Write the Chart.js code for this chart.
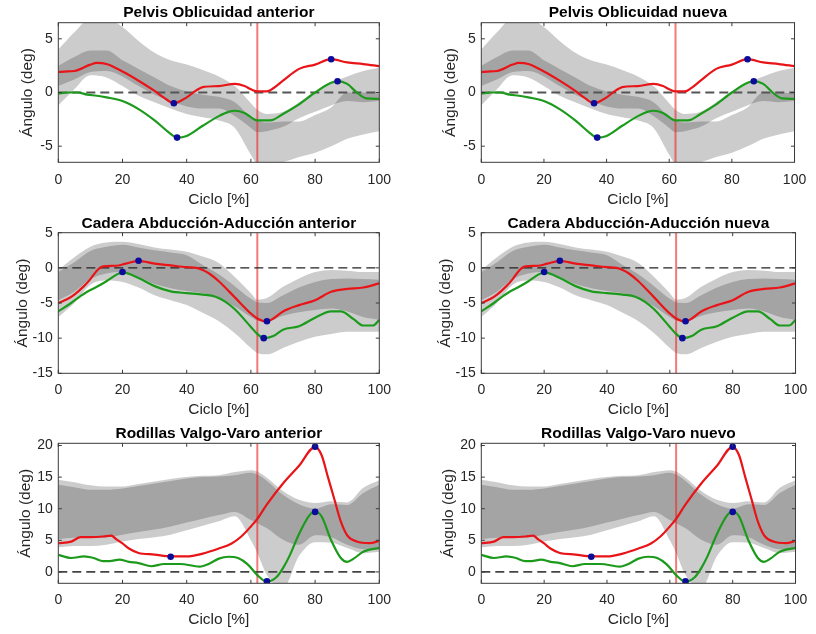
<!DOCTYPE html>
<html><head><meta charset="utf-8">
<script src="https://cdn.jsdelivr.net/npm/chart.js@4.4.0/dist/chart.umd.min.js"></script>
<style>
html,body{margin:0;padding:0;background:#fff;}
body{width:816px;height:634px;position:relative;overflow:hidden;}
canvas{position:absolute;}
</style></head><body>
<canvas id="c00"></canvas><canvas id="c01"></canvas>
<canvas id="c10"></canvas><canvas id="c11"></canvas>
<canvas id="c20"></canvas><canvas id="c21"></canvas>
<script>
// ---------- data ----------
const xTicks = [0, 20, 40, 60, 80, 100];
const pelvisYTicks = [-5, 0, 5];
const caderaYTicks = [-15, -10, -5, 0, 5];
const rodillaYTicks = [0, 5, 10, 15, 20];
const eventX = 62;

const bandX = [0, 5, 10, 15, 20, 25, 30, 35, 40, 45, 50, 55, 60, 62, 65, 70, 75, 80, 85, 90, 95, 100];

// Pelvis oblicuidad
const pelvisBandAHi = [4.0, 5.6, 6.9, 6.9, 6.1, 4.8, 3.7, 3.0, 2.6, 2.1, 1.5, 0.6, -1.0, -1.6, -2.0, -1.8, -0.9, 0.1, 0.9, 1.5, 2.0, 2.3];
const pelvisBandALo = [0.6, 1.2, 1.9, 2.0, 1.5, 0.6, -0.2, -0.8, -1.3, -1.5, -1.5, -2.2, -3.3, -3.7, -3.6, -3.2, -2.4, -1.8, -1.2, -0.8, -0.9, -0.8];
const pelvisBandBHi = [2.5, 3.3, 3.9, 3.9, 3.0, 2.2, 1.4, 0.6, 0.1, -0.2, -0.4, -0.9, -2.3, -2.6, -2.8, -2.7, -2.7, -2.1, -1.4, 0.0, 0.0, -0.1];
const pelvisBandBLo = [-1.2, 0.3, 1.6, 1.4, 0.6, -0.3, -0.9, -1.5, -2.0, -2.3, -2.6, -3.3, -5.8, -6.7, -6.9, -6.5, -6.0, -5.6, -5.0, -4.3, -3.9, -3.6];
const pelvisRedX = [0, 2, 5, 10, 12, 15, 20, 25, 30, 33, 36, 40, 43, 45, 50, 55, 58, 60, 62, 65, 67, 70, 75, 80, 85, 90, 95, 100];
const pelvisRedY = [1.9, 1.95, 2.0, 2.6, 2.75, 2.65, 1.95, 1.1, 0.15, -0.5, -1.0, -0.45, 0.2, 0.5, 0.6, 0.8, 0.6, 0.3, 0.1, 0.1, 0.4, 1.1, 2.2, 2.6, 3.1, 2.8, 2.65, 2.45];
const pelvisGreenX = [0, 3, 6, 9, 12, 15, 20, 25, 30, 35, 37, 40, 45, 50, 53, 55, 58, 62, 66, 70, 75, 80, 85, 87, 90, 93, 96, 100];
const pelvisGreenY = [-0.1, 0, 0, -0.2, -0.3, -0.45, -0.8, -1.55, -2.6, -3.85, -4.2, -4.05, -3.1, -2.2, -1.8, -1.7, -1.9, -2.6, -2.6, -2.0, -1.1, 0.0, 0.9, 1.05, 0.8, 0.0, -0.55, -0.6];
const pelvisDotX = [36, 85, 37, 87];
const pelvisDotY = [-1.0, 3.1, -4.2, 1.05];

// Cadera abducción-aducción
const caderaBandAHi = [-0.3, 1.5, 3.0, 3.6, 3.7, 3.4, 2.9, 2.6, 2.3, 1.6, 0.7, -1.3, -3.6, -4.5, -4.3, -2.7, -1.5, -0.6, -0.3, -0.4, -0.6, -0.6];
const caderaBandALo = [-4.6, -3.4, -1.6, -0.8, -0.6, -1.3, -2.3, -2.9, -3.3, -3.6, -4.2, -5.5, -7.0, -7.5, -7.6, -6.8, -6.3, -6.0, -5.8, -6.2, -7.0, -7.4];
const caderaBandBHi = [-0.6, 0.8, 2.4, 3.0, 3.3, 2.9, 2.5, 2.2, 1.8, 0.4, -0.9, -2.6, -4.4, -4.9, -5.0, -3.9, -2.8, -2.0, -1.6, -1.5, -1.6, -1.7];
const caderaBandBLo = [-7.0, -5.0, -2.4, -1.8, -2.0, -2.8, -3.9, -4.6, -5.3, -6.4, -7.6, -9.3, -11.4, -12.1, -12.3, -11.4, -10.5, -9.8, -9.4, -9.1, -9.1, -9.1];
const caderaRedX = [0, 3, 5, 8, 10, 12, 14, 18, 21, 25, 30, 35, 40, 43, 45, 47, 50, 55, 60, 62, 65, 67, 70, 75, 80, 85, 90, 95, 100];
const caderaRedY = [-5.0, -4.4, -3.8, -2.6, -1.6, -0.4, 0.2, 0.3, 0.6, 1.0, 0.6, 0.35, 0.1, 0.0, -0.3, -0.8, -1.9, -4.2, -6.5, -7.2, -7.65, -7.2, -6.2, -5.3, -4.6, -3.4, -3.0, -2.8, -2.2];
const caderaGreenX = [0, 4, 7, 9, 12, 15, 18, 20, 25, 30, 35, 40, 45, 49, 52, 55, 60, 62, 64, 67, 70, 75, 80, 85, 88, 92, 95, 98, 100];
const caderaGreenY = [-6.2, -5.0, -4.0, -3.4, -2.7, -1.9, -1.0, -0.65, -1.45, -2.6, -3.35, -3.6, -3.8, -4.1, -4.8, -5.9, -8.4, -9.4, -10.0, -9.7, -8.8, -8.3, -7.1, -6.2, -6.2, -7.3, -8.2, -8.2, -7.4];
const caderaDotX = [25, 65, 20, 64];
const caderaDotY = [1.0, -7.6, -0.6, -10.0];

// Rodillas valgo-varo
const rodillaBandAHi = [14.6, 14.2, 13.7, 13.5, 13.5, 13.9, 14.3, 14.7, 15.0, 15.2, 15.3, 15.8, 16.1, 15.9, 14.9, 12.8, 11.4, 10.9, 11.2, 11.0, 13.3, 14.5];
const rodillaBandALo = [5.2, 5.4, 5.4, 5.5, 5.9, 6.3, 6.7, 7.2, 7.8, 8.4, 9.0, 9.5, 8.2, 7.7, 6.9, 5.1, 4.3, 5.8, 5.5, 4.3, 3.6, 3.8];
const rodillaBandBHi = [13.8, 13.4, 13.0, 13.0, 13.2, 13.6, 14.0, 14.4, 14.8, 15.0, 15.1, 15.3, 15.7, 15.4, 14.4, 12.2, 10.7, 10.0, 10.7, 10.6, 12.5, 13.8];
const rodillaBandBLo = [3.9, 4.1, 4.1, 4.3, 4.8, 5.2, 5.5, 5.9, 6.6, 7.3, 8.0, 8.8, 5.0, 3.0, -0.5, -2.6, 2.5, 4.7, 4.6, 3.8, 3.0, 3.2];
const rodillaRedX = [0, 4, 7, 10, 14, 16.5, 18, 20, 22, 25, 30, 35, 40, 45, 50, 54, 57, 60, 62, 65, 70, 75, 80, 82, 84, 86, 88, 90, 93, 97, 100];
const rodillaRedY = [4.55, 4.8, 5.5, 5.5, 5.6, 5.75, 5.2, 4.5, 3.7, 3.0, 2.75, 2.45, 2.45, 2.9, 3.7, 4.5, 5.6, 7.2, 8.4, 10.7, 14.0, 16.8, 19.8, 18.5, 15.0, 11.5, 8.0, 5.8, 4.8, 4.55, 4.9];
const rodillaGreenX = [0, 4, 8, 11, 14, 16, 19, 22, 25, 29, 33, 38, 44, 47, 50, 53, 56, 59, 62, 65, 68, 70, 72, 75, 78, 80, 82, 85, 88, 90, 92, 95, 100];
const rodillaGreenY = [2.7, 2.2, 2.45, 2.2, 1.7, 1.7, 1.95, 1.6, 1.4, 0.9, 1.25, 1.25, 0.85, 1.3, 2.1, 2.4, 2.2, 1.2, -0.5, -1.55, -0.8, 0.6, 2.5, 6.0, 8.8, 9.6, 8.8, 5.0, 2.2, 1.6, 2.1, 3.2, 3.8];
const rodillaDotX = [35, 80, 65, 80];
const rodillaDotY = [2.4, 19.8, -1.5, 9.5];

const titles = [
  ['Pelvis Oblicuidad anterior', 'Pelvis Oblicuidad nueva'],
  ['Cadera Abducción-Aducción anterior', 'Cadera Abducción-Aducción nueva'],
  ['Rodillas Valgo-Varo anterior', 'Rodillas Valgo-Varo nuevo']
];
const xLabel = 'Ciclo [%]';
const yLabel = 'Ángulo (deg)';

// ---------- build ----------
const pts = (xs, ys) => xs.map((x, i) => ({x: x, y: ys[i]}));
const panels = [
  {aHi: pelvisBandAHi, aLo: pelvisBandALo, bHi: pelvisBandBHi, bLo: pelvisBandBLo,
   rx: pelvisRedX, ry: pelvisRedY, gx: pelvisGreenX, gy: pelvisGreenY, dx: pelvisDotX, dy: pelvisDotY,
   min: -6.5, max: 6.5, ticks: pelvisYTicks, zeroColor: '#555', zeroWidth: 2},
  {aHi: caderaBandAHi, aLo: caderaBandALo, bHi: caderaBandBHi, bLo: caderaBandBLo,
   rx: caderaRedX, ry: caderaRedY, gx: caderaGreenX, gy: caderaGreenY, dx: caderaDotX, dy: caderaDotY,
   min: -15, max: 5, ticks: caderaYTicks, zeroColor: '#222', zeroWidth: 1.3},
  {aHi: rodillaBandAHi, aLo: rodillaBandALo, bHi: rodillaBandBHi, bLo: rodillaBandBLo,
   rx: rodillaRedX, ry: rodillaRedY, gx: rodillaGreenX, gy: rodillaGreenY, dx: rodillaDotX, dy: rodillaDotY,
   min: -1.8, max: 20.35, ticks: rodillaYTicks, zeroColor: '#444', zeroWidth: 1.8}
];

const FONT = "'Liberation Sans', Arial, Helvetica, sans-serif";
const TITLE_SIZE = 15.5, LABEL_SIZE = 15.5, TICK_SIZE = 14;
const lhT = TITLE_SIZE * 1.2, lhL = LABEL_SIZE * 1.2, lhK = TICK_SIZE * 1.2;

const rowTop = [0, 210, 420], rowH = [210, 210, 214];
const chartTopR = [22.7, 22.7, 23.3], chartBotR = [162.3, 163.3, 163.3];
const titleCY = [13, 13.5, 13.5];
const yTitleOff = [31, 35.5, 32.5];
const xTitleCY = [199.3, 200, 200];
const tickCY = [180.5, 180.5, 180.5];
const colLeft = [0, 408], chartLeftC = [58.3, 73.3], chartRightC = [379.3, 394.3];

const boxPlugin = {
  id: 'matlabBox',
  afterDatasetsDraw(chart) {
    const {ctx, chartArea: a, scales} = chart;
    const x = scales.x, y = scales.y;
    ctx.save();
    ctx.strokeStyle = '#3a3a3a';
    ctx.lineWidth = 1;
    ctx.strokeRect(a.left, a.top, a.right - a.left, a.bottom - a.top);
    const tl = 3.5;
    ctx.beginPath();
    x.ticks.forEach(t => {
      const p = x.getPixelForValue(t.value);
      ctx.moveTo(p, a.bottom); ctx.lineTo(p, a.bottom - tl);
      ctx.moveTo(p, a.top); ctx.lineTo(p, a.top + tl);
    });
    y.ticks.forEach(t => {
      const p = y.getPixelForValue(t.value);
      ctx.moveTo(a.left, p); ctx.lineTo(a.left + tl, p);
      ctx.moveTo(a.right, p); ctx.lineTo(a.right - tl, p);
    });
    ctx.stroke();
    ctx.restore();
  }
};

function makeChart(r, c) {
  const P = panels[r];
  const W = 408, H = rowH[r];
  const cv = document.getElementById('c' + r + c);
  cv.width = W; cv.height = H;
  cv.style.left = colLeft[c] + 'px'; cv.style.top = rowTop[r] + 'px';
  cv.style.width = W + 'px'; cv.style.height = H + 'px';

  const cl = chartLeftC[c], cr = chartRightC[c], ct = chartTopR[r], cb = chartBotR[r];
  const padTop = titleCY[r] - lhT / 2;
  const titlePadBottom = ct - padTop - lhT;
  const padLeft = (cl - yTitleOff[r]) - lhL / 2;
  const yWidth = cl - padLeft;
  const padRight = W - cr;
  const padBottom = H - xTitleCY[r] - lhL / 2;
  const xHeight = H - padBottom - cb;
  const xTickPad = tickCY[r] - cb - lhK / 2;

  const band = (data, fill) => ({
    data: pts(bandX, data), borderWidth: 0, pointRadius: 0, fill: fill,
    backgroundColor: 'rgba(0,0,0,0.2)', cubicInterpolationMode: 'monotone', order: 10
  });

  const datasets = [
    band(P.aHi, '+1'), band(P.aLo, false),
    band(P.bHi, '+1'), band(P.bLo, false),
    {data: [{x: eventX, y: P.min}, {x: eventX, y: P.max}], borderColor: 'rgba(236,40,40,0.62)',
     borderWidth: 2, pointRadius: 0, fill: false, order: 6},
    {data: [{x: 0, y: 0}, {x: 100, y: 0}], borderColor: P.zeroColor, borderWidth: P.zeroWidth,
     borderDash: [9, 5], pointRadius: 0, fill: false, order: 5},
    {data: pts(P.gx, P.gy), borderColor: '#1c9a1c', borderWidth: 2.2, pointRadius: 0, fill: false,
     cubicInterpolationMode: 'monotone', order: 3},
    {data: pts(P.rx, P.ry), borderColor: '#e81418', borderWidth: 2.2, pointRadius: 0, fill: false,
     cubicInterpolationMode: 'monotone', order: 2},
    {data: pts(P.dx, P.dy), showLine: false, pointRadius: 3.3, pointBackgroundColor: '#0c0c9c',
     pointBorderWidth: 0, borderColor: '#0c0c9c', order: 1}
  ];

  new Chart(cv, {
    type: 'line',
    data: {datasets: datasets},
    plugins: [boxPlugin],
    options: {
      responsive: false, animation: false, devicePixelRatio: 1,
      layout: {padding: {top: padTop, left: padLeft, right: padRight, bottom: padBottom}},
      plugins: {
        legend: {display: false}, tooltip: {enabled: false},
        title: {display: true, text: titles[r][c], fullSize: false, color: '#000',
                font: {family: FONT, size: TITLE_SIZE, weight: 'bold', lineHeight: 1.2},
                padding: {top: 0, bottom: titlePadBottom}}
      },
      scales: {
        x: {type: 'linear', min: 0, max: 100,
            afterBuildTicks: s => { s.ticks = xTicks.map(v => ({value: v})); },
            afterFit: s => { s.height = xHeight; },
            grid: {display: false, drawTicks: false}, border: {display: false},
            ticks: {color: '#262626', padding: xTickPad, maxRotation: 0,
                    font: {family: FONT, size: TICK_SIZE, lineHeight: 1.2}},
            title: {display: true, text: xLabel, color: '#262626', padding: {top: 0, bottom: 0},
                    font: {family: FONT, size: LABEL_SIZE, lineHeight: 1.2}}},
        y: {type: 'linear', min: P.min, max: P.max,
            afterBuildTicks: s => { s.ticks = P.ticks.map(v => ({value: v})); },
            afterFit: s => { s.width = yWidth; },
            grid: {display: false, drawTicks: false}, border: {display: false},
            ticks: {color: '#262626', padding: 5.5,
                    font: {family: FONT, size: TICK_SIZE, lineHeight: 1.2}},
            title: {display: true, text: yLabel, color: '#262626', padding: {top: 0, bottom: 0},
                    font: {family: FONT, size: LABEL_SIZE, lineHeight: 1.2}}}
      }
    }
  });
}

for (let r = 0; r < 3; r++) for (let c = 0; c < 2; c++) makeChart(r, c);
</script>
</body></html>
